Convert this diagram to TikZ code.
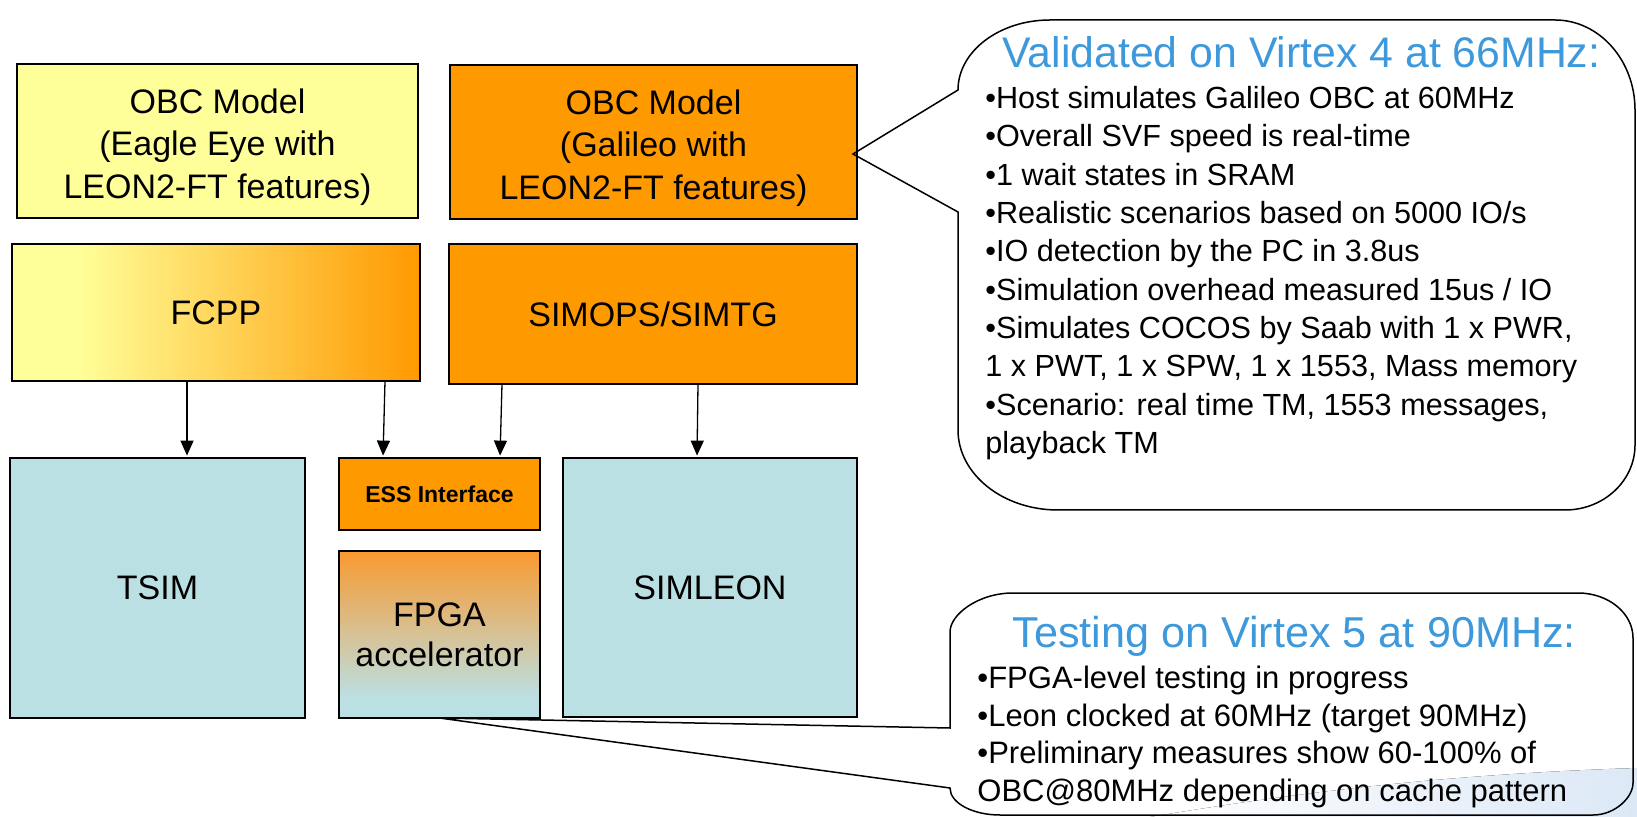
\documentclass[tikz,border=0pt]{standalone}
\usepackage{fontspec}
\setmainfont{Liberation Sans}
\usetikzlibrary{arrows.meta,calc}
\definecolor{yel}{HTML}{FFFF99}
\definecolor{org}{HTML}{FF9900}
\definecolor{lb}{HTML}{BBE0E3}
\definecolor{tblue}{HTML}{3D99DB}
\definecolor{fpgatop}{HTML}{F99A30}
\definecolor{swoosh}{HTML}{DCE8F6}
\pgfdeclarehorizontalshading{fcppshade}{100bp}{color(0bp)=(yel); color(25bp)=(yel); color(33bp)=(yel); color(75bp)=(org); color(100bp)=(org)}
\pgfdeclareverticalshading{fpgashade}{100bp}{color(0bp)=(lb); color(25bp)=(lb); color(31bp)=(lb); color(75bp)=(fpgatop); color(100bp)=(fpgatop)}
\newcommand\myBoxFont{\fontsize{17}{21.25}\selectfont}
\newcommand\myEssFont{\fontsize{11.5}{13}\selectfont\bfseries}
\newcommand\myFpgaFont{\fontsize{17}{20}\selectfont}
\newcommand\myCallA{\fontsize{15.3}{19}\selectfont}
\newcommand\myCallB{\fontsize{15.5}{19}\selectfont}
\newcommand\myTitleA{\fontsize{21.4}{25}\selectfont}
\newcommand\myTitleB{\fontsize{21.6}{25}\selectfont}
\newcommand\myLow{\rule{0pt}{18.3pt}}
\tikzset{
  blk/.style={draw=black, line width=0.9pt, inner sep=0pt, outer sep=0pt, align=center, font=\myBoxFont},
  arr/.style={-{Triangle[length=7.5pt,width=6.5pt]}, line width=0.65pt, shorten >=1.2pt},
  callout/.style={draw=black, line width=0.75pt, line join=miter},
  cla/.style={anchor=base west, inner sep=0pt, font=\myCallA},
  clb/.style={anchor=base west, inner sep=0pt, font=\myCallB},
  ttl/.style={anchor=base west, inner sep=0pt, text=tblue},
}
\begin{document}
\begin{tikzpicture}[x=0.5pt,y=-0.5pt]
\useasboundingbox (0,0) rectangle (1637,817);
% background swoosh
\fill[left color=white, right color=swoosh] (1150,817) .. controls (1300,792) and (1450,774) .. (1637,768) -- (1637,817) -- cycle;

% boxes
\node[blk, fill=yel, minimum width=200.5pt, minimum height=77pt] (eagle) at (217.5,141) {\myLow OBC Model\\(Eagle Eye with\\LEON2-FT features)};
\node[blk, fill=org, minimum width=203.5pt, minimum height=77pt] (galileo) at (653.5,142) {\myLow OBC Model\\(Galileo with\\LEON2-FT features)};
\node[blk, shade, shading=fcppshade, minimum width=204pt, minimum height=68.5pt] (fcpp) at (216,312.5) {FCPP};
\node[blk, fill=org, minimum width=204pt, minimum height=70pt] (simops) at (653,314) {SIMOPS/SIMTG};
\node[blk, fill=lb, minimum width=147.5pt, minimum height=130pt] (tsim) at (157.5,588) {TSIM};
\node[blk, fill=org, font=\myEssFont, minimum width=100.5pt, minimum height=36pt] (ess) at (439.5,494) {ESS Interface};
\node[blk, shade, shading=fpgashade, font=\myFpgaFont, minimum width=100.5pt, minimum height=83.5pt] (fpga) at (439.5,634.5) {FPGA\\accelerator};
\node[blk, fill=lb, minimum width=147pt, minimum height=129.5pt] (simleon) at (710,587.5) {SIMLEON};

% arrows
\draw[arr] ($(fcpp.south)+(-29,0)$) -- ($(tsim.north)+(29.5,0)$);
\draw[arr] ($(fcpp.south)+(169,0)$) -- ($(ess.north)+(-56.5,0)$);
\draw[arr] ($(simops.south)+(-151,0)$) -- ($(ess.north)+(60.5,0)$);
\draw[arr] ($(simops.south)+(45,0)$) -- ($(simleon.north)+(-13,0)$);

% callout 1
\coordinate (tip1) at ($(galileo.east)+(-4,12)$);
\draw[callout] (958,90) .. controls (958,51.4) and (999.2,20) .. (1050,20) -- (1555,20)
  .. controls (1599.2,20) and (1635,60.3) .. (1635,110) -- (1635,445)
  .. controls (1635,480.9) and (1603.6,510) .. (1565,510) -- (1058,510)
  .. controls (1002.8,510) and (958,474.2) .. (958,430) -- (958,212) -- (tip1) -- cycle;
\node[ttl, font=\myTitleA] (t1) at (1002,67.5) {Validated on Virtex 4 at 66MHz:};
\node[cla] (a1) at (985,109) {•Host simulates Galileo OBC at 60MHz};
\node[cla] (a2) at (985,147) {•Overall SVF speed is real-time};
\node[cla] (a3) at (985,185.5) {•1 wait states in SRAM};
\node[cla] (a4) at (985,224) {•Realistic scenarios based on 5000 IO/s};
\node[cla] (a5) at (985,262) {•IO detection by the PC in 3.8us};
\node[cla] (a6) at (985,300.5) {•Simulation overhead measured 15us / IO};
\node[cla] (a7) at (985,339) {•Simulates COCOS by Saab with 1 x PWR,};
\node[cla] (a8) at (985,377) {1 x PWT, 1 x SPW, 1 x 1553, Mass memory};
\node[cla] (a9) at (985,415.5) {•Scenario: real time TM, 1553 messages,};
\node[cla] (a10) at (985,454) {playback TM};

% callout 2
\coordinate (tip2) at (fpga.south);
\draw[callout] (tip2) -- (950,788) .. controls (950,802.9) and (972.4,815) .. (1000,815) -- (1593,815)
  .. controls (1615.1,815) and (1633,797.3) .. (1633,783) -- (1633,638)
  .. controls (1633,613.2) and (1608.4,593) .. (1578,593) -- (1013,593)
  .. controls (978.2,593) and (950,614.5) .. (950,632) -- (950,728) -- cycle;
\node[ttl, font=\myTitleB] (t2) at (1012,647) {Testing on Virtex 5 at 90MHz:};
\node[clb] (b1) at (977,688) {•FPGA-level testing in progress};
\node[clb] (b2) at (977,726) {•Leon clocked at 60MHz (target 90MHz)};
\node[clb] (b3) at (977,763) {•Preliminary measures show 60-100\% of};
\node[clb] (b4) at (977,801) {OBC@80MHz depending on cache pattern};
\end{tikzpicture}
\end{document}
